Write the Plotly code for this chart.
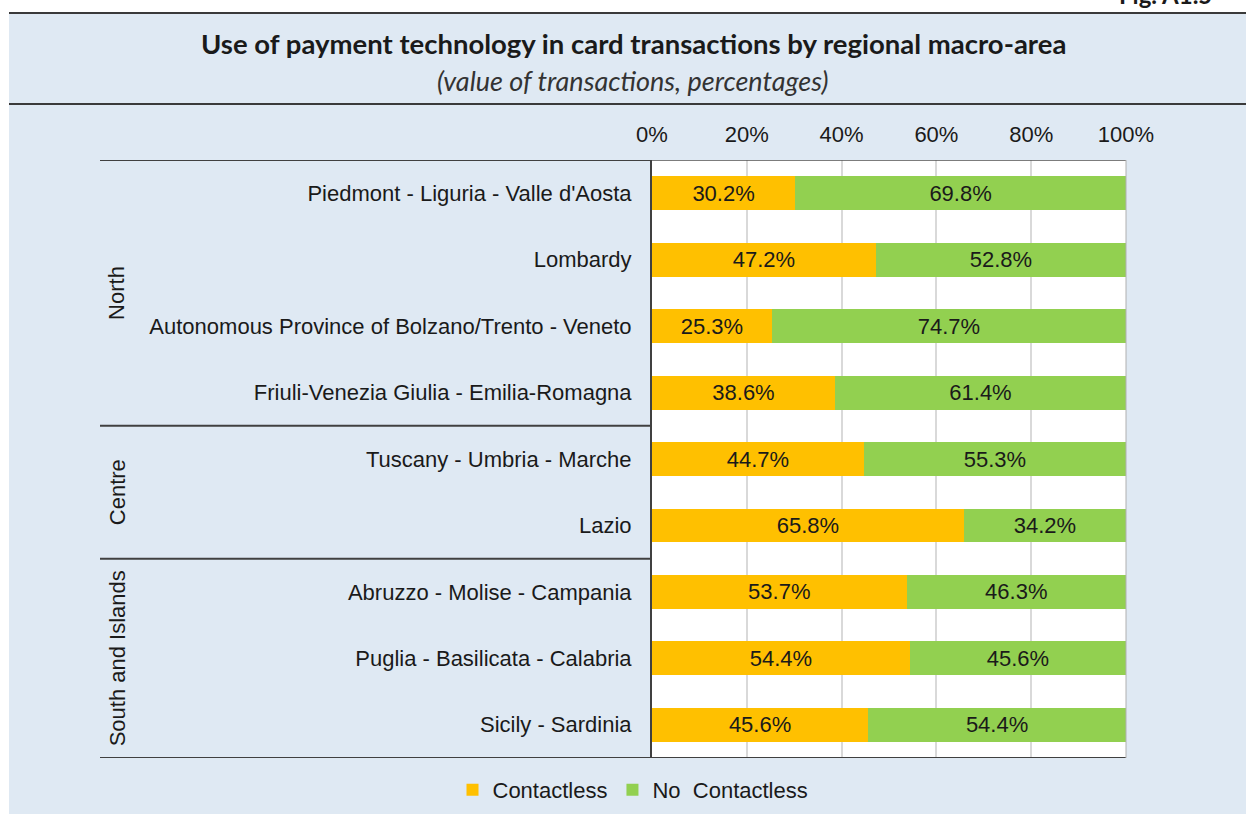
import plotly.graph_objects as go

regions = [
    "Piedmont - Liguria - Valle d'Aosta",
    "Lombardy",
    "Autonomous Province of Bolzano/Trento - Veneto",
    "Friuli-Venezia Giulia - Emilia-Romagna",
    "Tuscany - Umbria - Marche",
    "Lazio",
    "Abruzzo - Molise - Campania",
    "Puglia - Basilicata - Calabria",
    "Sicily - Sardinia",
]
contactless = [30.2, 47.2, 25.3, 38.6, 44.7, 65.8, 53.7, 54.4, 45.6]
no_contactless = [69.8, 52.8, 74.7, 61.4, 55.3, 34.2, 46.3, 45.6, 54.4]
groups = ["North", "Centre", "South and Islands"]
group_spans = [(0, 3), (4, 5), (6, 8)]
x_ticks = [0, 20, 40, 60, 80, 100]
x_tick_labels = ["0%", "20%", "40%", "60%", "80%", "100%"]

W, H = 1246, 814
L, R, T, B = 652, 1126, 160, 758
BG = "#dfe9f3"
SANS = "Liberation Sans, Arial, sans-serif"
TITLE = "Lato, Open Sans, sans-serif"
FS = 22


def px(x):
    return (x - L) / (R - L)


def py(y):
    return (B - y) / (B - T)


fig = go.Figure()
fig.add_trace(go.Bar(
    y=regions, x=contactless, orientation="h", name="Contactless",
    marker=dict(color="#FFC000", line=dict(width=0)),
    text=[f"{v:.1f}%" for v in contactless], textposition="inside",
    insidetextanchor="middle", textfont=dict(size=FS, color="#1a1a1a", family=SANS),
    width=0.51, hoverinfo="skip",
))
fig.add_trace(go.Bar(
    y=regions, x=no_contactless, orientation="h", name="No  Contactless",
    marker=dict(color="#92D050", line=dict(width=0)),
    text=[f"{v:.1f}%" for v in no_contactless], textposition="inside",
    insidetextanchor="middle", textfont=dict(size=FS, color="#1a1a1a", family=SANS),
    width=0.51, hoverinfo="skip",
))

shapes = []
# white strips outside the framed panel
shapes.append(dict(type="rect", xref="paper", yref="paper", x0=px(0), x1=px(W), y0=py(0), y1=py(12),
                   fillcolor="white", line=dict(width=0), layer="below"))
shapes.append(dict(type="rect", xref="paper", yref="paper", x0=px(0), x1=px(9), y0=py(0), y1=py(H),
                   fillcolor="white", line=dict(width=0), layer="below"))
# header rules
for yy in (13, 104):
    shapes.append(dict(type="line", xref="paper", yref="paper", x0=px(9), x1=px(W), y0=py(yy), y1=py(yy),
                       line=dict(color="#3a3a3a", width=2)))
# group separators
for yv in (-0.5, 3.5, 5.5, 8.5):
    shapes.append(dict(type="line", xref="paper", yref="y", x0=px(100), x1=0, y0=yv, y1=yv,
                       line=dict(color="#404040", width=2)))
# top/bottom/right plot frame
shapes.append(dict(type="line", xref="paper", yref="y", x0=0, x1=1, y0=-0.5, y1=-0.5,
                   line=dict(color="#505050", width=1.5)))
shapes.append(dict(type="line", xref="paper", yref="y", x0=0, x1=1, y0=8.5, y1=8.5,
                   line=dict(color="#404040", width=2)))
shapes.append(dict(type="line", xref="paper", yref="paper", x0=1, x1=1, y0=0, y1=1,
                   line=dict(color="#b0b0b0", width=1)))

annotations = [
    dict(text="<b>Use of payment technology in card transactions by regional macro-area</b>",
         xref="paper", yref="paper", x=px(633), y=py(43), xanchor="center", yanchor="middle",
         showarrow=False, font=dict(family=TITLE, size=27.5, color="#1a1a1a")),
    dict(text="<i>(value of transactions, percentages)</i>",
         xref="paper", yref="paper", x=px(633), y=py(81), xanchor="center", yanchor="middle",
         showarrow=False, font=dict(family=TITLE, size=27, color="#333333")),
    dict(text="<b>Fig. A1.5</b>", xref="paper", yref="paper", x=px(1117), y=py(11),
         xanchor="left", yanchor="bottom", showarrow=False,
         font=dict(family=TITLE, size=24, color="#1a1a1a")),
]
for g, (a, b) in zip(groups, group_spans):
    annotations.append(dict(text=g, xref="paper", yref="y", x=px(117), y=(a + b) / 2,
                            xanchor="center", yanchor="middle", textangle=-90, showarrow=False,
                            font=dict(family=SANS, size=FS, color="#1a1a1a")))

fig.update_layout(
    width=W, height=H, barmode="stack",
    margin=dict(l=L, r=W - R, t=T, b=H - B, pad=0, autoexpand=False),
    paper_bgcolor=BG, plot_bgcolor="white",
    font=dict(family=SANS, size=FS, color="#1a1a1a"),
    shapes=shapes, annotations=annotations,
    uniformtext=dict(minsize=FS, mode="show"),
    legend=dict(orientation="h", x=px(633), y=py(790), xanchor="center", yanchor="middle",
                font=dict(family=SANS, size=FS, color="#1a1a1a"), bgcolor="rgba(0,0,0,0)",
                traceorder="normal", itemwidth=30, tracegroupgap=0),
    showlegend=True,
)
fig.update_xaxes(range=[0, 100], side="top", tickvals=x_ticks, ticktext=x_tick_labels,
                 showgrid=True, gridcolor="#d9d9d9", gridwidth=1.5, zeroline=False,
                 showline=False, ticks="", ticklabelstandoff=13,
                 tickfont=dict(family=SANS, size=FS, color="#1a1a1a"), fixedrange=True)
fig.update_yaxes(categoryorder="array", categoryarray=regions, range=[8.5, -0.5],
                 showline=True, linecolor="#404040", linewidth=2, ticks="",
                 showgrid=False, zeroline=False, ticklabelstandoff=14,
                 tickfont=dict(family=SANS, size=FS, color="#1a1a1a"), fixedrange=True)

fig.write_html("out.html", config={"displayModeBar": False},
               post_script="document.body.style.margin='0';")
